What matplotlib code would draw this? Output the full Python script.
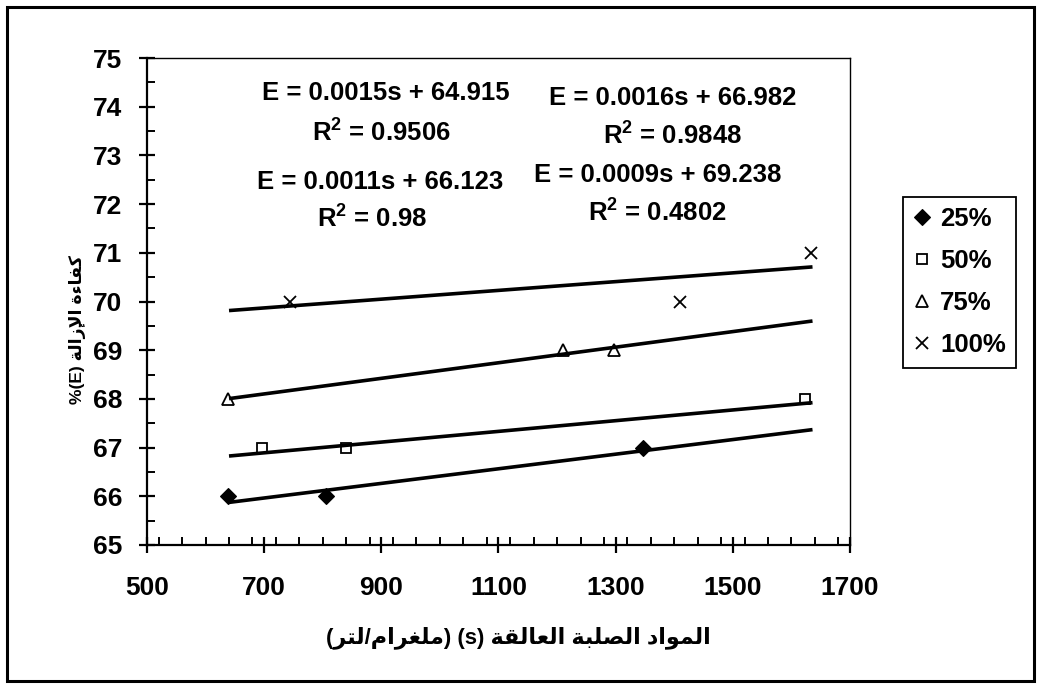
import matplotlib
matplotlib.use("Agg")
import matplotlib.pyplot as plt
from matplotlib.patches import Rectangle
from matplotlib.ticker import MultipleLocator
import numpy as np

# ---------------- data ----------------
series_labels = ["25%", "50%", "75%", "100%"]
s_25 = [638, 805, 1346]
e_25 = [66, 66, 67]
s_50 = [697, 840, 1623]
e_50 = [67, 67, 68]
s_75 = [638, 1210, 1298]
e_75 = [68, 69, 69]
s_100 = [744, 1410, 1634]
e_100 = [70, 70, 71]

# trend-line coefficients (slope, intercept, R^2)
slopes = [0.0015, 0.0011, 0.0016, 0.0009]
intercepts = [64.915, 66.123, 66.982, 69.238]
r_squared = ["0.9506", "0.98", "0.9848", "0.4802"]
trend_range = [640, 1636]

x_ticks = [500, 700, 900, 1100, 1300, 1500, 1700]
y_ticks = [65, 66, 67, 68, 69, 70, 71, 72, 73, 74, 75]

# ---------------- Arabic shaping helpers ----------------
FORMS = {  # isolated, final, initial, medial
    'ء': ('\uFE80', None, None, None),
    'إ': ('\uFE87', '\uFE88', None, None),
    'ا': ('\uFE8D', '\uFE8E', None, None),
    'ب': ('\uFE8F', '\uFE90', '\uFE91', '\uFE92'),
    'ة': ('\uFE93', '\uFE94', None, None),
    'ت': ('\uFE95', '\uFE96', '\uFE97', '\uFE98'),
    'د': ('\uFEA9', '\uFEAA', None, None),
    'ر': ('\uFEAD', '\uFEAE', None, None),
    'ز': ('\uFEAF', '\uFEB0', None, None),
    'ص': ('\uFEB9', '\uFEBA', '\uFEBB', '\uFEBC'),
    'ع': ('\uFEC9', '\uFECA', '\uFECB', '\uFECC'),
    'غ': ('\uFECD', '\uFECE', '\uFECF', '\uFED0'),
    'ف': ('\uFED1', '\uFED2', '\uFED3', '\uFED4'),
    'ق': ('\uFED5', '\uFED6', '\uFED7', '\uFED8'),
    'ك': ('\uFED9', '\uFEDA', '\uFEDB', '\uFEDC'),
    'ل': ('\uFEDD', '\uFEDE', '\uFEDF', '\uFEE0'),
    'م': ('\uFEE1', '\uFEE2', '\uFEE3', '\uFEE4'),
    'و': ('\uFEED', '\uFEEE', None, None),
}
LAM_ALEF = {'ا': ('\uFEFB', '\uFEFC'), 'إ': ('\uFEF9', '\uFEFA')}


def _joins_next(unit):
    kind, c = unit
    return kind == 'C' and FORMS[c][2] is not None


def _joins_prev(unit):
    kind, c = unit
    return kind == 'LA' or FORMS[c][1] is not None


def shape_word(word):
    units, i = [], 0
    while i < len(word):
        c = word[i]
        if c == 'ل' and i + 1 < len(word) and word[i + 1] in LAM_ALEF:
            units.append(('LA', word[i + 1]))
            i += 2
        else:
            units.append(('C', c))
            i += 1
    out = []
    for k, unit in enumerate(units):
        prev = units[k - 1] if k > 0 else None
        nxt = units[k + 1] if k + 1 < len(units) else None
        jp = prev is not None and _joins_next(prev)
        kind, c = unit
        if kind == 'LA':
            out.append(LAM_ALEF[c][1 if jp else 0])
            continue
        iso, fin, ini, med = FORMS[c]
        jn = nxt is not None and ini is not None and _joins_prev(nxt)
        if jp and jn:
            out.append(med)
        elif jp:
            out.append(fin)
        elif jn:
            out.append(ini)
        else:
            out.append(iso)
    return ''.join(out)


def visual(text):
    shaped = ' '.join(shape_word(w) for w in text.split(' '))
    return shaped[::-1]


x_title = "(" + visual("لتر") + "/" + visual("ملغرام") + ") (s) " + visual("المواد الصلبة العالقة")
y_title = "%(E) " + visual("كفاءة الإزالة")

# ---------------- figure ----------------
plt.rcParams['font.family'] = ['Liberation Sans', 'DejaVu Sans']
plt.rcParams['font.weight'] = 'bold'
plt.rcParams['mathtext.fontset'] = 'custom'
plt.rcParams['mathtext.rm'] = 'Liberation Sans:bold'
plt.rcParams['mathtext.bf'] = 'Liberation Sans:bold'

W, H = 1041, 688
fig = plt.figure(figsize=(W / 100, H / 100), dpi=100)
fig.patch.set_facecolor('white')

# outer chart border
fig.patches.append(Rectangle((7 / W, 7 / H), 1027 / W, 674 / H, transform=fig.transFigure,
                             fill=False, edgecolor='black', linewidth=2.2, zorder=0))

ax = fig.add_axes([147 / W, 1 - 545 / H, 703 / W, 487 / H])
ax.set_xlim(500, 1700)
ax.set_ylim(65, 75)

xs_all = [s_25, s_50, s_75, s_100]
es_all = [e_25, e_50, e_75, e_100]
marker_styles = [
    dict(marker='D', markersize=8.5, markerfacecolor='black', markeredgecolor='black', markeredgewidth=0.8),
    dict(marker='s', markersize=7, markerfacecolor='white', markeredgecolor='black', markeredgewidth=1.3),
    dict(marker='^', markersize=8.5, markerfacecolor='white', markeredgecolor='black', markeredgewidth=1.3),
    dict(marker='x', markersize=9, markeredgecolor='black', markeredgewidth=1.3),
]

handles = []
for xs, es, lab, ms in zip(xs_all, es_all, series_labels, marker_styles):
    h, = ax.plot(xs, es, linestyle='none', label=lab, zorder=3, **ms)
    handles.append(h)

tx = np.array(trend_range, dtype=float)
for m, b in zip(slopes, intercepts):
    ax.plot(tx, m * tx + b, color='black', linewidth=2.6, solid_capstyle='butt', zorder=4)

# equation annotations (pixel centres)
eq_pos = [(386, 93), (380, 182), (673, 98), (658, 175)]
r2_pos = [(381, 132), (372, 218), (673, 135), (657, 212)]
for m, b, r2, (ex, ey), (rx, ry) in zip(slopes, intercepts, r_squared, eq_pos, r2_pos):
    fig.text(ex / W, 1 - ey / H, f"E = {m:.4f}s + {b:.3f}", ha='center', va='center',
             fontsize=18.5, fontweight='bold')
    fig.text(rx / W, 1 - ry / H, r"R$^{\mathbf{2}}$ = " + r2, ha='center', va='center',
             fontsize=18.5, fontweight='bold')

# axes styling
for side in ['left', 'bottom']:
    ax.spines[side].set_linewidth(1.6)
for side in ['top', 'right']:
    ax.spines[side].set_linewidth(1.0)

ax.set_xticks(x_ticks)
ax.set_yticks(y_ticks)
ax.xaxis.set_minor_locator(MultipleLocator(40))
ax.yaxis.set_minor_locator(MultipleLocator(0.5))
ax.tick_params(axis='both', which='major', direction='inout', length=12, width=1.6,
               labelsize=19, top=False, right=False)
ax.tick_params(axis='x', which='major', pad=16)
ax.tick_params(axis='y', which='major', pad=12)
ax.tick_params(axis='both', which='minor', direction='in', length=6, width=1.4,
               top=False, right=False)
for lab in ax.get_xticklabels() + ax.get_yticklabels():
    lab.set_fontweight('bold')

fig.text(518 / W, 1 - 638 / H, x_title, ha='center', va='center', fontsize=16, fontweight='bold')
fig.text(77 / W, 1 - 330 / H, y_title, ha='center', va='center', fontsize=12.5,
         fontweight='bold', rotation=90)

leg = fig.legend(handles=handles, labels=series_labels, loc='upper left',
                 bbox_to_anchor=(903 / W, 1 - 197 / H), borderaxespad=0,
                 frameon=True, fancybox=False, edgecolor='black', framealpha=1,
                 prop={'size': 18.5, 'weight': 'bold'}, handlelength=0.7,
                 handletextpad=0.35, labelspacing=0.7, borderpad=0.4)
leg.get_frame().set_linewidth(1.3)

fig.savefig("out.png", dpi=100, facecolor='white')
